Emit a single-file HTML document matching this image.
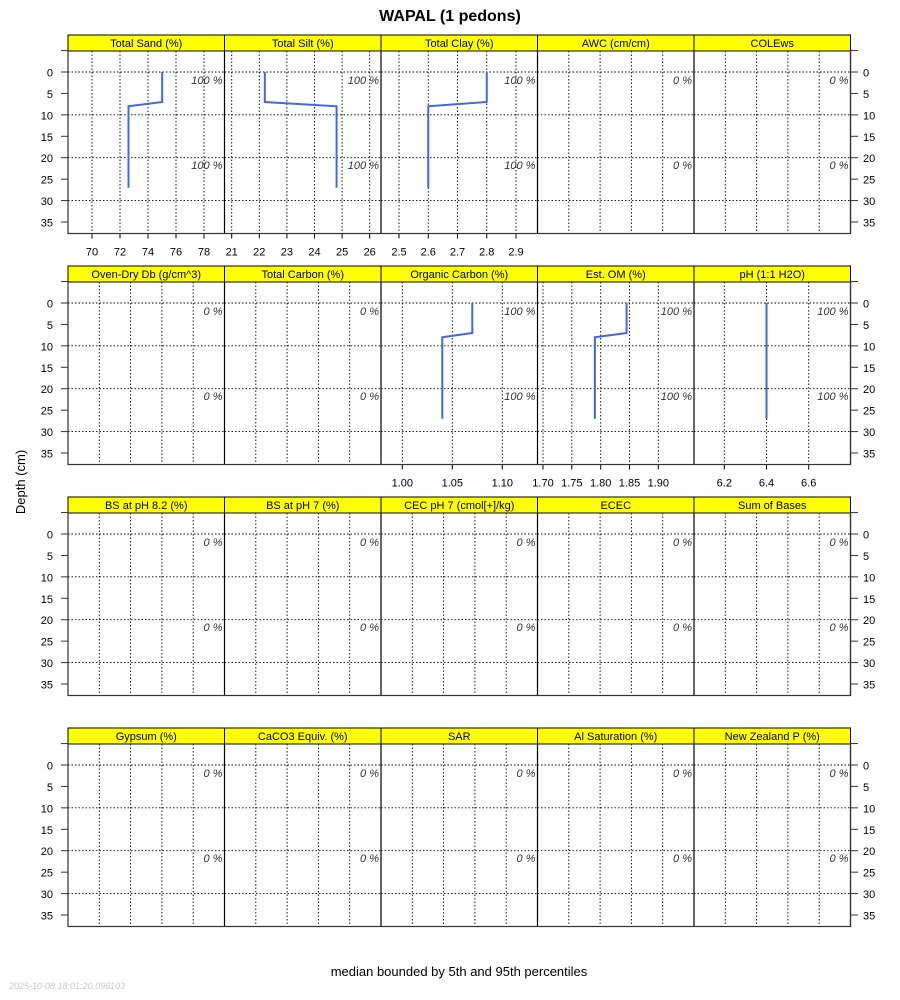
<!DOCTYPE html>
<html><head><meta charset="utf-8"><style>
html,body{margin:0;padding:0;background:#fff;}
svg{display:block;font-family:"Liberation Sans",sans-serif;}
</style></head><body>
<svg id="s" width="900" height="1000" xmlns="http://www.w3.org/2000/svg">
<text x="450" y="21" text-anchor="middle" font-size="16" font-weight="bold">WAPAL (1 pedons)</text>
<text x="459" y="976" text-anchor="middle" font-size="13">median bounded by 5th and 95th percentiles</text>
<text x="9" y="989" font-size="9" font-style="italic" fill="#c8c8c8">2025-10-08 18:01:20.096103</text>
<text transform="translate(25,482) rotate(-90)" text-anchor="middle" font-size="13">Depth (cm)</text>
</svg>
<script>
var s=document.getElementById('s');var NS='http://www.w3.org/2000/svg';
function el(t,a,txt){var e=document.createElementNS(NS,t);for(var k in a)e.setAttribute(k,a[k]);if(txt!=null)e.textContent=txt;s.appendChild(e);return e;}
var xs=[68,224.5,381,537.5,694,850.5];
var rows=[35,266,497,728];
var FS=11;
var names=[["Total Sand (%)","Total Silt (%)","Total Clay (%)","AWC (cm/cm)","COLEws"],
["Oven-Dry Db (g/cm^3)","Total Carbon (%)","Organic Carbon (%)","Est. OM (%)","pH (1:1 H2O)"],
["BS at pH 8.2 (%)","BS at pH 7 (%)","CEC pH 7 (cmol[+]/kg)","ECEC","Sum of Bases"],
["Gypsum (%)","CaCO3 Equiv. (%)","SAR","Al Saturation (%)","New Zealand P (%)"]];
var data={
"0,0":{t:[[70,92],[72,120],[74,148],[76,176],[78,204]],v0:70,x0:92,k:14.04,top:75,bot:72.6,lab:["70","72","74","76","78"]},
"0,1":{t:[[21,231.7],[22,259.3],[23,286.9],[24,314.5],[25,342.1],[26,369.7]],v0:21,x0:231.7,k:27.6,top:22.2,bot:24.8,lab:["21","22","23","24","25","26"]},
"0,2":{t:[[2.5,399],[2.6,428.25],[2.7,457.5],[2.8,486.75],[2.9,516]],v0:2.5,x0:399,k:292.5,top:2.8,bot:2.6,lab:["2.5","2.6","2.7","2.8","2.9"]},
"1,2":{t:[[1.0,402.3],[1.05,452.3],[1.1,502.3]],v0:1.0,x0:402.3,k:1000,top:1.07,bot:1.04,lab:["1.00","1.05","1.10"]},
"1,3":{t:[[1.7,543],[1.75,571.8],[1.8,600.7],[1.85,629.5],[1.9,658.3]],v0:1.7,x0:543,k:576.5,top:1.845,bot:1.79,lab:["1.70","1.75","1.80","1.85","1.90"]},
"1,4":{t:[[6.2,724.3],[6.4,766.5],[6.6,808.7]],v0:6.2,x0:724.3,k:211,top:6.4,bot:6.4,lab:["6.2","6.4","6.6"]}
};
rows.forEach(function(st,r){
 var pt=st+16,pb=st+198.5,y0=st+37;var sc=4.286;
 function Y(d){return y0+d*sc;}
 for(var c=0;c<5;c++){
  var x1=xs[c],x2=xs[c+1];
  el('rect',{x:x1,y:st,width:x2-x1,height:16,fill:'#ffff00',stroke:'#000','stroke-width':1});
  el('text',{x:(x1+x2)/2,y:st+12,'text-anchor':'middle','font-size':FS},names[r][c]);
  var d=data[r+","+c];
  [0,10,20,30].forEach(function(v){el('line',{x1:x1,x2:x2,y1:Y(v),y2:Y(v),stroke:'#000','stroke-width':0.9,'stroke-dasharray':'1.5,2'});});
  var vx=[];
  if(d){d.t.forEach(function(t){vx.push(t[1]);});}
  else{for(var i=1;i<5;i++)vx.push(x1+(x2-x1)*i/5);}
  vx.forEach(function(x){el('line',{x1:x,x2:x,y1:pt,y2:pb,stroke:'#000','stroke-width':0.9,'stroke-dasharray':'1.5,2'});});
  var pct=d?"100 %":"0 %";
  el('text',{x:x2-2,y:Y(1.9)+4,'text-anchor':'end','font-size':FS,'font-style':'italic',fill:'#333'},pct);
  el('text',{x:x2-2,y:Y(21.7)+4,'text-anchor':'end','font-size':FS,'font-style':'italic',fill:'#333'},pct);
  if(d){
   var xt=d.x0+(d.top-d.v0)*d.k,xb=d.x0+(d.bot-d.v0)*d.k;
   el('polyline',{points:xt+","+Y(0)+" "+xt+","+Y(7)+" "+xb+","+Y(8)+" "+xb+","+Y(27),fill:'none',stroke:'#4169e1','stroke-width':2});
   d.t.forEach(function(t,i){
    el('line',{x1:t[1],x2:t[1],y1:pb,y2:pb+5,stroke:'#000'});
    el('text',{x:t[1],y:pb+22,'text-anchor':'middle','font-size':FS},d.lab[i]);
   });
  }
  el('line',{x1:x2,x2:x2,y1:pt,y2:pb,stroke:'#000','stroke-width':1.2});
 }
 el('rect',{x:68,y:pt,width:782.5,height:pb-pt,fill:'none',stroke:'#333','stroke-width':1.2});
 for(var v=-5;v<=35;v+=5){
  el('line',{x1:61,x2:68,y1:Y(v),y2:Y(v),stroke:'#333'});
  el('line',{x1:850.5,x2:858,y1:Y(v),y2:Y(v),stroke:'#333'});
  if(v>=0){
   el('text',{x:53,y:Y(v)+4.5,'text-anchor':'end','font-size':FS},String(v));
   el('text',{x:863,y:Y(v)+4.5,'font-size':FS},String(v));
  }
 }
});
</script>
</body></html>
